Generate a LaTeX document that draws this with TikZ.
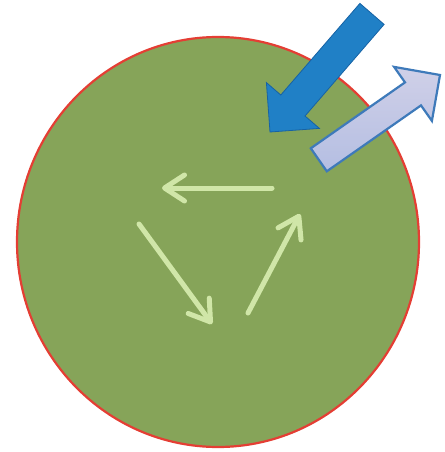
\documentclass[tikz,border=0pt]{standalone}
\usetikzlibrary{arrows.meta,shapes.geometric}
\definecolor{cellgreen}{RGB}{134,164,89}
\definecolor{cellred}{RGB}{228,62,52}
\definecolor{inblue}{RGB}{32,128,198}
\definecolor{inblueedge}{RGB}{22,98,165}
\definecolor{outlav}{RGB}{208,208,232}
\definecolor{outlav2}{RGB}{180,190,226}
\definecolor{outedge}{RGB}{62,122,186}
\definecolor{cyclegreen}{RGB}{208,230,168}
\tikzset{
  cellbody/.style={fill=cellgreen, draw=cellred, line width=2.2pt},
  inarrow/.style={fill=inblue, draw=inblueedge, line width=0.8pt, line join=miter},
  outarrow/.style={left color=outlav, right color=outlav2, shading angle=0, draw=outedge, line width=2.2pt, line join=miter},
  cyclearrow/.style={draw=cyclegreen, line width=5pt, line cap=round,
    -{Straight Barb[length=20pt, width=26pt, line cap=round, line join=round]}}
}
\begin{document}
\begin{tikzpicture}[x=1pt,y=-1pt]
\useasboundingbox (0,0) rectangle (444,452);
\begin{scope}
\clip (0,0) rectangle (444,452);
% cell
\node[cellbody, ellipse, minimum width=402pt, minimum height=410pt, inner sep=0pt] (cell) at (218,242) {};
% incoming blue arrow
\draw[inarrow] (270,132) coordinate (intip) -- (266.4,82.6) -- (280.8,95) -- (359.9,3.4) -- (384.1,24.4) -- (305,116) -- (319.4,128.4) -- cycle;
% outgoing lavender arrow
\draw[outarrow] (440,75) coordinate (outtip) -- (431.9,120.9) -- (421,105.4) -- (326.8,171.3) -- (310.8,148.3) -- (405,82.4) -- (394.1,66.9) -- cycle;
\end{scope}
% cycle arrows
\coordinate (a1) at (272,188);
\coordinate (b1) at (162,188);
\coordinate (a2) at (139,224);
\coordinate (b2) at (212,324);
\coordinate (a3) at (248,313);
\coordinate (b3) at (300,214);
\draw[cyclearrow] (a1) -- (b1);
\draw[cyclearrow] (a2) -- (b2);
\draw[cyclearrow] (a3) -- (b3);
\end{tikzpicture}
\end{document}
